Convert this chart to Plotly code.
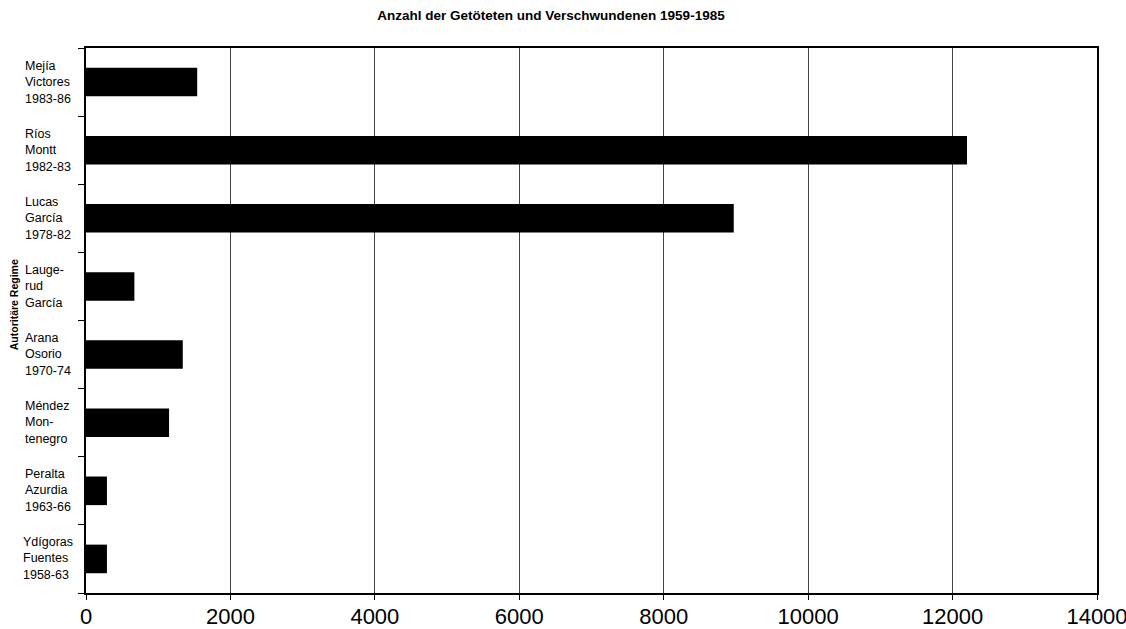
import plotly.graph_objects as go

# Data (bottom to top)
regimes = [
    "Ydígoras<br>Fuentes<br>1958-63",
    "Peralta<br>Azurdia<br>1963-66",
    "Méndez<br>Mon-<br>tenegro",
    "Arana<br>Osorio<br>1970-74",
    "Lauge-<br>rud<br>García",
    "Lucas<br>García<br>1978-82",
    "Ríos<br>Montt<br>1982-83",
    "Mejía<br>Victores<br>1983-86",
]
keys = ["Ydigoras", "Peralta", "Mendez", "Arana", "Laugerud", "Lucas", "Rios", "Mejia"]
victims = [290, 290, 1150, 1340, 670, 8970, 12200, 1540]
x_ticks = [0, 2000, 4000, 6000, 8000, 10000, 12000, 14000]

title_text = "Anzahl der Getöteten und Verschwundenen 1959-1985"
y_title = "Autoritäre Regime"

FONT = "Liberation Sans, Arial, sans-serif"
L_MARGIN, PLOT_W = 86, 1011

fig = go.Figure()
fig.add_trace(go.Bar(
    x=victims, y=keys, orientation="h",
    marker=dict(color="black", line=dict(width=0)),
    hoverinfo="x+y",
))

annotations = []
for i, (k, lab) in enumerate(zip(keys, regimes)):
    # widest label (first) is right-anchored, the rest start at a common left edge
    if i == 0:
        ax, anc = (75 - L_MARGIN) / PLOT_W, "right"
    else:
        ax, anc = (23 - L_MARGIN) / PLOT_W, "left"
    annotations.append(dict(
        x=ax, xref="paper", y=k, yref="y",
        text=lab, showarrow=False, xanchor=anc, yanchor="middle",
        align="left", font=dict(family=FONT, size=12.5, color="black"),
    ))
annotations.append(dict(
    x=(14 - L_MARGIN) / PLOT_W, xref="paper", y=0.528, yref="paper",
    text="<b>" + y_title + "</b>", showarrow=False, textangle=-90,
    xanchor="center", yanchor="middle",
    font=dict(family=FONT, size=10.5, color="black"),
))

fig.update_layout(
    width=1126, height=629, autosize=False,
    margin=dict(l=L_MARGIN, r=29, t=48, b=36, pad=0, autoexpand=False),
    paper_bgcolor="white", plot_bgcolor="white",
    showlegend=False,
    bargap=0.58,
    title=dict(
        text="<b>" + title_text + "</b>",
        x=551 / 1126, xanchor="center", y=1 - 15 / 629, yanchor="middle",
        font=dict(family=FONT, size=13.5, color="black"),
        automargin=False,
    ),
    xaxis=dict(
        range=[0, 14000], tickvals=x_ticks, ticktext=[str(v) for v in x_ticks],
        showgrid=True, gridcolor="#444444", gridwidth=1,
        showline=True, linecolor="black", linewidth=2, mirror=True,
        ticks="outside", ticklen=5, tickcolor="black", tickwidth=1,
        tickfont=dict(family=FONT, size=22, color="black"),
        ticklabeloverflow="allow", ticklabelstandoff=-2,
        automargin=False, zeroline=False, fixedrange=True,
    ),
    yaxis=dict(
        categoryorder="array", categoryarray=keys,
        showticklabels=False,
        showline=True, linecolor="black", linewidth=2, mirror=True,
        ticks="outside", ticklen=6, tickcolor="black", tickwidth=1,
        tickson="boundaries", showgrid=False, zeroline=False, fixedrange=True,
        automargin=False,
    ),
    annotations=annotations,
)

fig.write_html(
    "out.html",
    config={"displayModeBar": False},
    post_script="document.body.style.margin='0';document.body.style.overflow='hidden';"
                "document.documentElement.style.overflow='hidden';",
)
